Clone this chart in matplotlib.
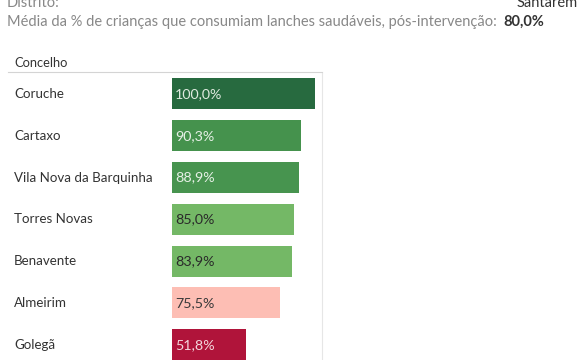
import matplotlib.pyplot as plt

plt.rcParams["font.family"] = ["Lato", "DejaVu Sans"]

concelhos = ["Coruche", "Cartaxo", "Vila Nova da Barquinha", "Torres Novas",
             "Benavente", "Almeirim", "Golegã"]
valores = [100.0, 90.3, 88.9, 85.0, 83.9, 75.5, 51.8]
cores = ["#276a3f", "#45924d", "#47944f", "#74b866", "#74b866", "#fdbeb4", "#b0143a"]
cores_texto = ["#dfeadf", "#e6f0e6", "#e6f0e6", "#2a2a2a", "#2a2a2a", "#3a3a3a", "#f3d6dc"]

W, H = 580, 360
fig = plt.figure(figsize=(5.8, 3.6), dpi=100)

# pane: x from 172 to 322 px, rows from y=73 with 41.8 px pitch
top_px, pitch = 73, 41.8
bottom_px = top_px + pitch * len(concelhos)
ax = fig.add_axes([172 / W, 1 - bottom_px / H, 150 / W, (bottom_px - top_px) / H])
ax.set_xlim(0, 100 * 150 / 143)
ax.set_ylim(len(concelhos) - 0.5, -0.5)
ypos = list(range(len(concelhos)))
ax.barh(ypos, valores, height=31 / pitch, color=cores, left=0)
for y, v, c in zip(ypos, valores, cores_texto):
    ax.text(2.0, y, f"{v:.1f}%".replace(".", ","), va="center", ha="left",
            fontsize=10.3, color=c)
for s in ["top", "bottom", "left"]:
    ax.spines[s].set_visible(False)
ax.spines["right"].set_color("#e6e6e6")
ax.set_xticks([])
ax.set_yticks([])

# row labels
for y, name in zip(ypos, concelhos):
    fig.text(14 / W, 1 - (top_px + pitch * (y + 0.5)) / H, name, ha="left",
             va="center", fontsize=9.6, color="#333333")

# header
fig.text(14 / W, 1 - 63 / H, "Concelho", ha="left", va="center",
         fontsize=9.3, color="#333333")
fig.add_artist(plt.Line2D([8 / W, 322 / W], [1 - 71.5 / H, 1 - 71.5 / H],
                          color="#d4d4d4", lw=0.8))

# top texts
fig.text(7 / W, 1 - 3 / H, "Distrito:", ha="left", va="center",
         fontsize=10.5, color="#888888")
fig.text(578 / W, 1 - 3 / H, "Santarém", ha="right", va="center",
         fontsize=10.5, color="#333333")
fig.text(7 / W, 1 - 22 / H,
         "Média da % de crianças que consumiam lanches saudáveis, pós-intervenção:",
         ha="left", va="center", fontsize=10.5, color="#888888")
fig.text(503 / W, 1 - 22 / H, "80,0%", ha="left", va="center",
         fontsize=10.5, color="#333333", fontweight="bold")

fig.savefig("out.png", dpi=100)
